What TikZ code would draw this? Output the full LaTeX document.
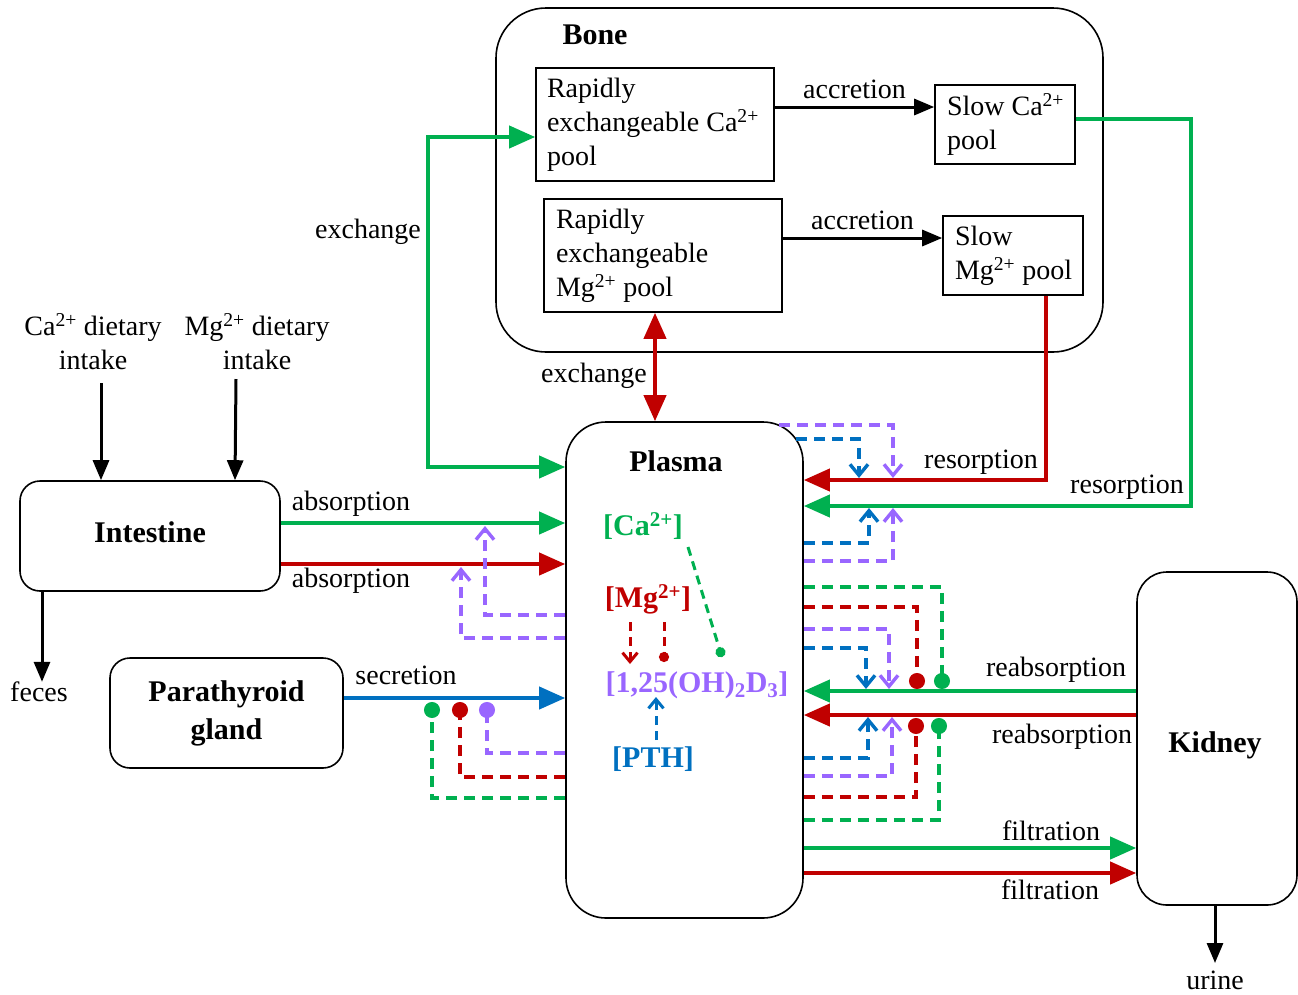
\documentclass[tikz,border=0pt]{standalone}
\usepackage{fontspec}
\setmainfont{Liberation Serif}
\usetikzlibrary{arrows.meta}
\definecolor{cgreen}{HTML}{00B050}
\definecolor{cred}{HTML}{C00000}
\definecolor{cblue}{HTML}{0070C0}
\definecolor{cpurple}{HTML}{9966FF}
\tikzset{
  lbl/.style={font=\fontsize{28}{34}\selectfont, inner sep=0pt},
  bld/.style={font=\fontsize{30}{38}\selectfont\bfseries, inner sep=0pt},
  boxA/.style={draw, line width=1.6pt, inner sep=0pt, font=\fontsize{28}{34}\selectfont, align=flush left},
  rbox/.style={draw, line width=1.6pt, inner sep=0pt},
  flow/.style={line width=4pt, -{Triangle[length=26pt,width=22pt]}},
  flowtwo/.style={line width=4pt, {Triangle[length=26pt,width=22pt]}-{Triangle[length=26pt,width=22pt]}},
  blk/.style={line width=3pt, -{Triangle[length=20pt,width=16pt]}},
  fb/.style={line width=3.4pt, dash pattern=on 11pt off 7pt},
  fbarr/.style={fb, -{Straight Barb[length=11pt,width=18pt]}},
  fbdot/.style={fb, -{Circle[length=16pt]}},
  inarr/.style={line width=3pt, dash pattern=on 9pt off 6pt, -{Straight Barb[length=9pt,width=15pt]}},
  indot/.style={line width=3pt, dash pattern=on 9pt off 6pt, -{Circle[length=10pt]}},
}
\begin{document}
\begin{tikzpicture}[x=1pt,y=-1pt]
\useasboundingbox (0,0) rectangle (1298,994);

% Bone
\node[rbox, rounded corners=50pt, minimum width=607pt, minimum height=344pt] (bone) at (799.5,180) {};
\node[bld] (boneL) at (595,35) {Bone};
\node[boxA, minimum width=238pt, minimum height=113pt, text width=216pt] (caR) at (655,124.5)
  {Rapidly\\\mbox{exchangeable Ca\textsuperscript{2+}}\\pool};
\node[boxA, minimum width=140pt, minimum height=79pt, text width=116pt] (slowCa) at (1005,124.5)
  {\mbox{Slow Ca\textsuperscript{2+}}\\pool};
\node[boxA, minimum width=238pt, minimum height=113pt, text width=214pt] (mgR) at (663,255.5)
  {Rapidly\\exchangeable\\\mbox{Mg\textsuperscript{2+} pool}};
\node[boxA, minimum width=140pt, minimum height=79pt, text width=116pt] (slowMg) at (1013,255.5)
  {Slow\\\mbox{Mg\textsuperscript{2+} pool}};
\draw[blk] (caR.east |- 0,107) -- (slowCa.west |- 0,107) node[lbl, midway, above=7pt] (acc1) {accretion};
\draw[blk] (mgR.east |- 0,238) -- (slowMg.west |- 0,238) node[lbl, midway, above=7pt] (acc2) {accretion};

% Plasma, intestine, parathyroid, kidney
\node[rbox, rounded corners=40pt, minimum width=237pt, minimum height=496pt] (plasma) at (684.5,670) {};
\node[bld] (plasmaL) at (676,461) {Plasma};
\node[rbox, rounded corners=20pt, minimum width=260pt, minimum height=110pt] (intest) at (150,536) {};
\node[bld] (intestL) at (150,532) {Intestine};
\node[rbox, rounded corners=20pt, minimum width=233pt, minimum height=110pt, bld, align=center] (pth) at (226.5,713) {Parathyroid\\[0pt]gland};
\node[rbox, rounded corners=30pt, minimum width=160pt, minimum height=333pt] (kidney) at (1217,738.5) {};
\node[bld] (kidneyL) at (1215,745) {Kidney};

% intake
\node[lbl, align=center] (caD) at (93,342) {Ca\textsuperscript{2+} dietary\\intake};
\node[lbl, align=center] (mgD) at (257,342) {Mg\textsuperscript{2+} dietary\\intake};
\draw[blk] (101,383) -- (intest.north -| 101,0);
\draw[blk] (236,379) -- (intest.north -| 235,0);
\node[lbl] (feces) at (39,692) {feces};
\draw[blk] (intest.south -| 42,0) -- (feces.north -| 42,0);
\node[lbl] (urine) at (1215,980) {urine};
\draw[blk] (kidney.south -| 1215,0) -- (1215,963);

% exchange
\draw[flowtwo, cgreen] (plasma.west |- 0,467) -- (428,467) -- (428,137) -- (caR.west |- 0,137);
\node[lbl] (ex1) at (368,232) {exchange};
\draw[flowtwo, cred] (mgR.south -| 655,0) -- (plasma.north -| 655,0);
\node[lbl] (ex2) at (594,376) {exchange};

% resorption
\draw[flow, cgreen] (slowCa.east |- 0,119) -- (1191,119) -- (1191,506) -- (plasma.east |- 0,506);
\draw[flow, cred] (slowMg.south -| 1046,0) -- (1046,480) -- (plasma.east |- 0,480);
\node[lbl] (res1) at (981,462) {resorption};
\node[lbl] (res2) at (1127,487) {resorption};

% absorption
\draw[flow, cgreen] (intest.east |- 0,523) -- (plasma.west |- 0,523);
\draw[flow, cred] (intest.east |- 0,564) -- (plasma.west |- 0,564);
\node[lbl] (abs1) at (351,504) {absorption};
\node[lbl] (abs2) at (351,581) {absorption};

% secretion
\draw[flow, cblue] (pth.east |- 0,698) -- (plasma.west |- 0,698);
\node[lbl] (sec) at (406,675) {secretion};

% kidney flows
\draw[flow, cgreen] (kidney.west |- 0,691) -- (plasma.east |- 0,691);
\draw[flow, cred] (kidney.west |- 0,715) -- (plasma.east |- 0,715);
\node[lbl] (rea1) at (1056,670) {reabsorption};
\node[lbl] (rea2) at (1062,737) {reabsorption};
\draw[flow, cgreen] (plasma.east |- 0,848) -- (kidney.west |- 0,848);
\draw[flow, cred] (plasma.east |- 0,873) -- (kidney.west |- 0,873);
\node[lbl] (fil1) at (1051,831) {filtration};
\node[lbl] (fil2) at (1050,890) {filtration};

% plasma contents
\node[bld, text=cgreen] (caT) at (643,526) {[Ca\textsuperscript{2+}]};
\node[bld, text=cred] (mgT) at (648,599) {[Mg\textsuperscript{2+}]};
\node[bld, text=cpurple] (dT) at (697,685) {[1,25(OH)\textsubscript{2}D\textsubscript{3}]};
\node[bld, text=cblue] (pthT) at (653,759) {[PTH]};
\draw[indot, cgreen] (688,547) -- (722,657);
\draw[inarr, cred] (630,622) -- (630,664);
\draw[indot, cred] (664,622) -- (664,662);
\draw[inarr, cblue] (656,740) -- (656,697);

% feedback: bone resorption
\draw[fbarr, cpurple] (779,425) -- (893,425) -- (893,478);
\draw[fbarr, cblue] (796,439) -- (859,439) -- (859,478);
\draw[fbarr, cblue] (plasma.east |- 0,543) -- (869,543) -- (869,508);
\draw[fbarr, cpurple] (plasma.east |- 0,561) -- (893,561) -- (893,508);

% feedback: kidney
\draw[fbdot, cgreen] (plasma.east |- 0,587) -- (942,587) -- (942,689);
\draw[fbdot, cred] (plasma.east |- 0,607) -- (917,607) -- (917,689);
\draw[fbarr, cpurple] (plasma.east |- 0,629) -- (889,629) -- (889,689);
\draw[fbarr, cblue] (plasma.east |- 0,648) -- (866,648) -- (866,689);
\draw[fbarr, cblue] (plasma.east |- 0,758) -- (868,758) -- (868,717);
\draw[fbarr, cpurple] (plasma.east |- 0,776) -- (892,776) -- (892,717);
\draw[fbdot, cred] (plasma.east |- 0,797) -- (916,797) -- (916,718);
\draw[fbdot, cgreen] (plasma.east |- 0,820) -- (939,820) -- (939,718);

% feedback: parathyroid
\draw[fbdot, cgreen] (plasma.west |- 0,798) -- (432,798) -- (432,702);
\draw[fbdot, cred] (plasma.west |- 0,777) -- (460,777) -- (460,702);
\draw[fbdot, cpurple] (plasma.west |- 0,753) -- (487,753) -- (487,702);

% feedback: intestine
\draw[fbarr, cpurple] (plasma.west |- 0,615) -- (485,615) -- (485,526);
\draw[fbarr, cpurple] (plasma.west |- 0,638) -- (461,638) -- (461,567);
\end{tikzpicture}
\end{document}
